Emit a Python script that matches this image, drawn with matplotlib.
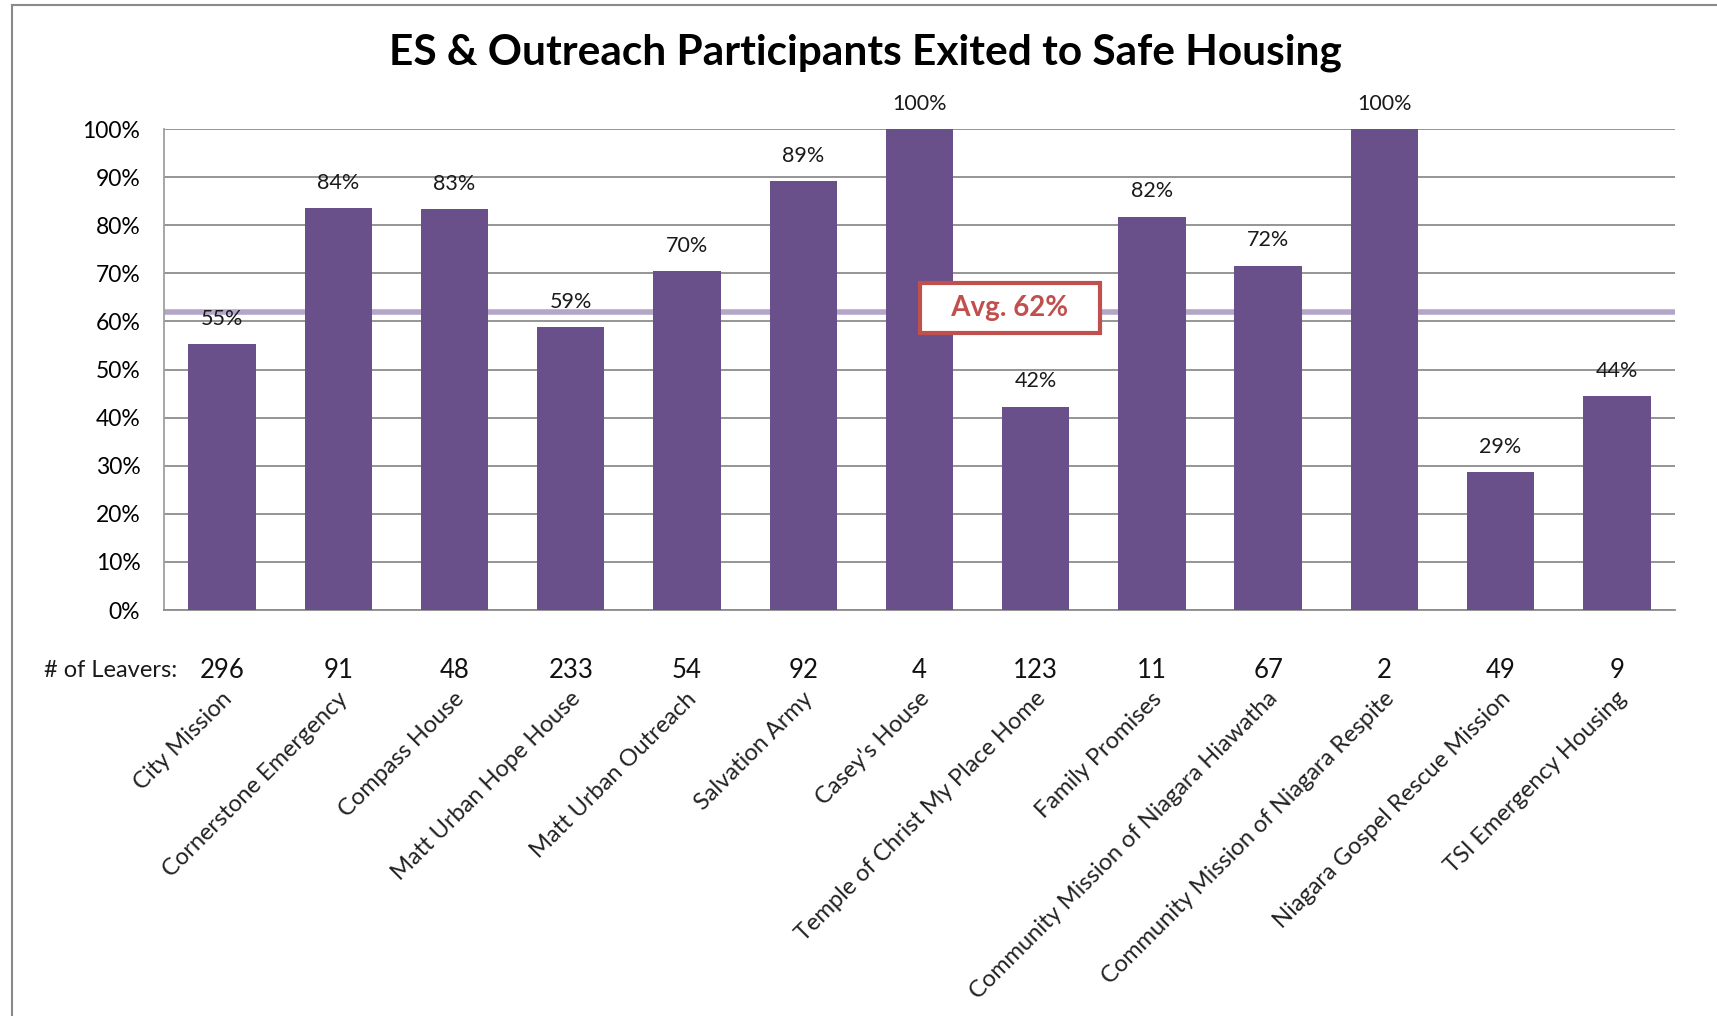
import matplotlib
matplotlib.use("Agg")
import matplotlib.pyplot as plt
from matplotlib.lines import Line2D
import numpy as np

plt.rcParams['font.family'] = ['Lato', 'DejaVu Sans']

programs = ["City Mission", "Cornerstone Emergency", "Compass House", "Matt Urban Hope House",
            "Matt Urban Outreach", "Salvation Army", "Casey's House", "Temple of Christ My Place Home",
            "Family Promises", "Community Mission of Niagara Hiawatha", "Community Mission of Niagara Respite",
            "Niagara Gospel Rescue Mission", "TSI Emergency Housing"]
pct_safe = [0.553, 0.835, 0.833, 0.588, 0.704, 0.891, 1.0, 0.423, 0.818, 0.716, 1.0, 0.286, 0.444]
pct_labels = ["55%", "84%", "83%", "59%", "70%", "89%", "100%", "42%", "82%", "72%", "100%", "29%", "44%"]
leavers = [296, 91, 48, 233, 54, 92, 4, 123, 11, 67, 2, 49, 9]
avg_pct = 0.62

bar_color = '#69508a'
avg_color = '#b3a6c8'
red = '#c0504d'
grid_color = '#8c8c8c'

fig = plt.figure(figsize=(17.17, 10.16), dpi=100)
ax = fig.add_axes([0.0955, 0.3996, 0.88, 0.4734])

x = np.arange(len(programs))
ax.bar(x, pct_safe, width=0.58, color=bar_color, zorder=3)

for xi, v, lab in zip(x, pct_safe, pct_labels):
    ax.annotate(lab, (xi, v), xytext=(0, 11), textcoords='offset points',
                ha='center', va='bottom', fontsize=15.5, color='#1a1a1a')

ax.axhline(avg_pct, color=avg_color, lw=4, zorder=2)
ax.text(6.78, avg_pct + 0.008, "   Avg. 62%   ", ha='center', va='center', fontsize=20,
        fontweight='bold', color=red, zorder=5,
        bbox=dict(boxstyle='square,pad=0.42', fc='white', ec=red, lw=3))

ax.set_xlim(-0.5, len(programs) - 0.5)
ax.set_ylim(0, 1.0)
ax.set_yticks(np.arange(0, 1.01, 0.1))
ax.set_yticklabels([f"{int(round(t * 100))}%" for t in np.arange(0, 1.01, 0.1)], fontsize=16.5)
ax.yaxis.grid(True, color=grid_color, lw=1.3, zorder=0)
ax.tick_params(axis='y', length=0, pad=17)
ax.tick_params(axis='x', length=0)
ax.set_xticks([])
for side in ['top', 'right']:
    ax.spines[side].set_visible(False)
ax.spines['left'].set_color('#a0a0a0')
ax.spines['bottom'].set_color(grid_color)
ax.spines['left'].set_linewidth(1.3)
ax.spines['bottom'].set_linewidth(1.3)

# leavers row and rotated program names
trans = ax.get_xaxis_transform()
ax.text(-0.39, -0.125, "# of Leavers:", transform=trans, ha='right', va='center',
        fontsize=17, color='#1a1a1a')
for xi, n, name in zip(x, leavers, programs):
    ax.text(xi, -0.125, str(n), transform=trans, ha='center', va='center', fontsize=18.5, color='#111111')
    ax.text(xi - 0.01, -0.162, name, transform=trans, ha='right', va='top', rotation=45,
            rotation_mode='anchor', fontsize=17, color='#222222')

fig.suptitle("ES & Outreach Participants Exited to Safe Housing", x=0.504, y=0.948,
             fontsize=30.5, fontweight='bold', va='center')

# chart border
fig.add_artist(Line2D([12 / 1717, 12 / 1717], [0, 1 - 5 / 1016], color='#8a8a8a', lw=1.5))
fig.add_artist(Line2D([12 / 1717, 1], [1 - 5 / 1016, 1 - 5 / 1016], color='#8a8a8a', lw=1.5))

fig.savefig("out.png", dpi=100, facecolor='white')
